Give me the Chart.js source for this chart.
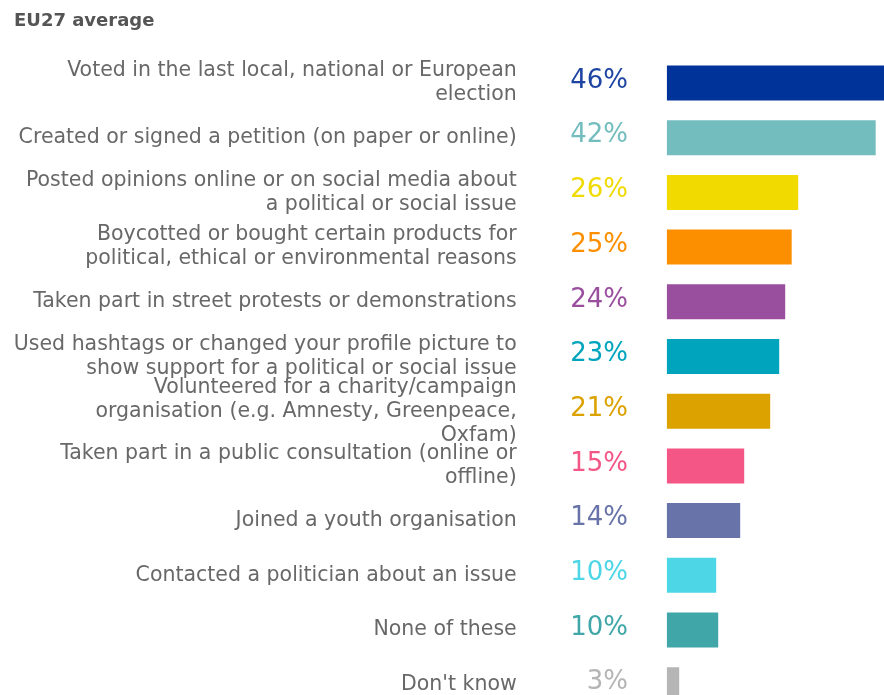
<!DOCTYPE html>
<html><head><meta charset="utf-8">
<script src="https://cdn.jsdelivr.net/npm/chart.js@4"></script>
<style>html,body{margin:0;padding:0;background:#fff;overflow:hidden;width:884px;height:695px}
canvas{display:block;position:absolute;left:0;top:0}</style>
</head><body><canvas id="c" width="884" height="712" style="width:884px;height:712px"></canvas>
<script>
const categories = [
  ['Voted in the last local, national or European', 'election'],
  'Created or signed a petition (on paper or online)',
  ['Posted opinions online or on social media about', 'a political or social issue'],
  ['Boycotted or bought certain products for', 'political, ethical or environmental reasons'],
  'Taken part in street protests or demonstrations',
  ['Used hashtags or changed your profile picture to', 'show support for a political or social issue'],
  ['Volunteered for a charity/campaign', 'organisation (e.g. Amnesty, Greenpeace,', 'Oxfam)'],
  ['Taken part in a public consultation (online or', 'offline)'],
  'Joined a youth organisation',
  'Contacted a politician about an issue',
  'None of these',
  "Don't know"
];
const values = [46.0, 41.8, 26.3, 25.0, 23.7, 22.5, 20.7, 15.5, 14.7, 9.9, 10.3, 2.5];
const valueLabels = ['46%', '42%', '26%', '25%', '24%', '23%', '21%', '15%', '14%', '10%', '10%', '3%'];
const colors = ['#003399', '#74bdbe', '#f0da00', '#fc8f00', '#9a4f9e', '#00a5bd', '#dca200', '#f45786', '#6874a9', '#4cd6e6', '#40a6a8', '#b5b5b5'];
const textColors = ['#1f45a3', '#74bdbe', '#f0da00', '#fc8f00', '#9a4f9e', '#00a5bd', '#dca200', '#f45786', '#6874a9', '#4cd6e6', '#40a6a8', '#b5b5b5'];
const title = 'EU27 average';

const pctPlugin = {
  id: 'pct',
  afterDatasetsDraw(chart) {
    const {ctx, chartArea} = chart;
    const meta = chart.getDatasetMeta(0);
    ctx.save();
    ctx.font = '26px "DejaVu Sans"';
    ctx.textAlign = 'right';
    ctx.textBaseline = 'middle';
    meta.data.forEach((bar, i) => {
      ctx.fillStyle = textColors[i];
      ctx.fillText(valueLabels[i], chartArea.left - 38.7, bar.y - 2);
    });
    ctx.restore();
  }
};

new Chart(document.getElementById('c'), {
  type: 'bar',
  data: {
    labels: categories,
    datasets: [{data: values, backgroundColor: colors, borderWidth: 0, barPercentage: 0.64, categoryPercentage: 1}]
  },
  options: {
    indexAxis: 'y',
    responsive: false,
    maintainAspectRatio: false,
    animation: false,
    devicePixelRatio: 1,
    layout: {padding: {left: 14, right: 0, top: 0, bottom: 0}},
    plugins: {
      legend: {display: false},
      tooltip: {enabled: false},
      title: {display: true, text: title, align: 'start', color: '#555',
        font: {family: 'DejaVu Sans', size: 18, weight: 'bold'}, padding: {top: 11, bottom: 23.1}}
    },
    scales: {
      x: {display: false, min: 0, max: 43.46},
      y: {
        grid: {display: false, drawTicks: false},
        border: {display: false},
        ticks: {padding: 150, color: '#686868', autoSkip: false,
          font: {family: 'DejaVu Sans', size: 20.5, lineHeight: '24px'}},
        afterFit(s) { s.width = 652.7; s.paddingTop = 0; s.paddingBottom = 0; }
      }
    }
  },
  plugins: [pctPlugin]
});
</script></body></html>
